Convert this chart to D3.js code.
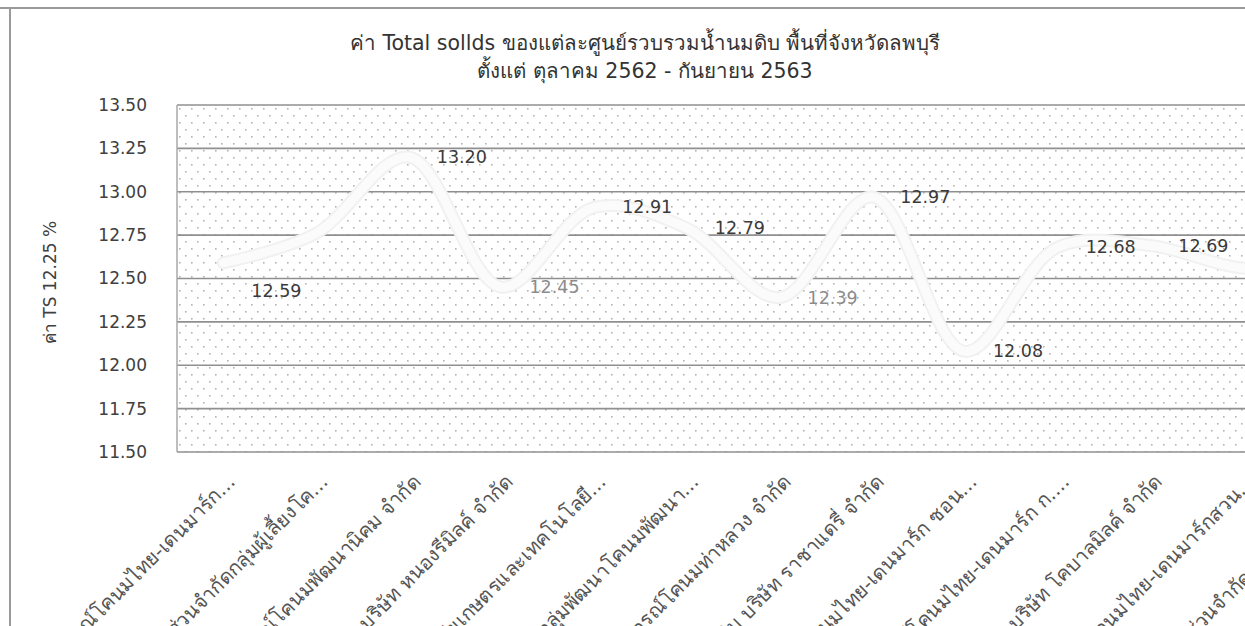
<!DOCTYPE html>
<html>
<head>
<meta charset="utf-8">
<script src="https://cdn.jsdelivr.net/npm/d3@7/dist/d3.min.js"></script>
<style>
  html, body { margin: 0; padding: 0; background: #fff; overflow: hidden; }
  svg { display: block; }
  text { font-family: "DejaVu Sans", "Noto Sans", sans-serif; }
</style>
</head>
<body>
<svg id="chart" width="1245" height="626"></svg>
<script>
// ---- data ----
const titleLines = [
  "ค่า Total sollds ของแต่ละศูนย์รวบรวมน้ำนมดิบ พื้นที่จังหวัดลพบุรี",
  "ตั้งแต่ ตุลาคม 2562 - กันยายน 2563"
];
const yAxisTitle = "ค่า TS 12.25 %";
const categories = [
  "ศูนย์รวบรวมน้ำนมดิบ สหกรณ์โคนมไทย-เดนมาร์ก...",
  "ศูนย์ฯ ห้างหุ้นส่วนจำกัดกลุ่มผู้เลี้ยงโค...",
  "ศูนย์ฯ สหกรณ์โคนมพัฒนานิคม  จำกัด",
  "ศูนย์รวบรวมน้ำนมดิบ บริษัท หนองรีมิลค์ จำกัด",
  "ศูนย์ฯ วิทยาลัยเกษตรและเทคโนโลยี...",
  "ศูนย์ฯ กลุ่มพัฒนาโคนมพัฒนา...",
  "ศูนย์ฯ สหกรณ์โคนมท่าหลวง จำกัด",
  "ศูนย์รวบรวมน้ำนมดิบ บริษัท ราชาแดรี่ จำกัด",
  "ศูนย์ฯ สหกรณ์โคนมไทย-เดนมาร์ก ซอน...",
  "ศูนย์ฯ สหกรณ์โคนมไทย-เดนมาร์ก ก....",
  "ศูนย์รวบรวมน้ำนมดิบ บริษัท โคบาลมิลค์ จำกัด",
  "ศูนย์ฯ สหกรณ์โคนมไทย-เดนมาร์กสวน...",
  "ศูนย์ฯ ห้างหุ้นส่วนจำกัดกลุ่มเกษตรกร..."
];
const tsValues = [12.59, 12.76, 13.20, 12.45, 12.91, 12.79, 12.39, 12.97, 12.08, 12.68, 12.69, 12.56, 12.60];
const yTicks = [11.50, 11.75, 12.00, 12.25, 12.50, 12.75, 13.00, 13.25, 13.50];
const hiddenLabelIdx = [1, 11, 12];
const lightLabelIdx = [3, 6];

// ---- layout ----
const svg = d3.select("#chart");
const plot = { left: 177, top: 105, bottom: 452, step: 92.7 };
plot.right = plot.left + plot.step * categories.length;

const x = d3.scaleBand().domain(categories).range([plot.left, plot.right]).padding(0);
const cx = d => x(d) + x.bandwidth() / 2;
const y = d3.scaleLinear().domain([11.5, 13.5]).range([plot.bottom, plot.top]);

// outer chart border (top and left)
svg.append("line").attr("x1", 0).attr("x2", 1245).attr("y1", 8).attr("y2", 8)
  .attr("stroke", "#9a9a9a").attr("stroke-width", 2);
svg.append("line").attr("x1", 10).attr("x2", 10).attr("y1", 8).attr("y2", 626)
  .attr("stroke", "#9a9a9a").attr("stroke-width", 2);

// title
svg.append("text").attr("x", 645).attr("y", 50).attr("text-anchor", "middle")
  .attr("font-size", 20.5).attr("fill", "#333").text(titleLines[0]);
svg.append("text").attr("x", 645).attr("y", 78).attr("text-anchor", "middle")
  .attr("font-size", 20.5).attr("fill", "#333").text(titleLines[1]);

// dotted pattern
const defs = svg.append("defs");
const pat = defs.append("pattern").attr("id", "dots").attr("patternUnits", "userSpaceOnUse")
  .attr("width", 12).attr("height", 14).attr("x", plot.left).attr("y", plot.top);
pat.append("rect").attr("width", 12).attr("height", 14).attr("fill", "#fff");
pat.append("rect").attr("x", 2).attr("y", 3).attr("width", 1.6).attr("height", 1.6).attr("fill", "#b4b4b4");
pat.append("rect").attr("x", 8).attr("y", 10).attr("width", 1.6).attr("height", 1.6).attr("fill", "#b4b4b4");

svg.append("rect").attr("x", plot.left).attr("y", plot.top)
  .attr("width", plot.right - plot.left).attr("height", plot.bottom - plot.top)
  .attr("fill", "url(#dots)");

// gridlines
svg.append("g").selectAll("line").data(yTicks).join("line")
  .attr("x1", plot.left).attr("x2", plot.right)
  .attr("y1", d => y(d)).attr("y2", d => y(d))
  .attr("stroke", "#8f8f8f").attr("stroke-width", 1.6);

// plot frame left
svg.append("line").attr("x1", plot.left).attr("x2", plot.left).attr("y1", plot.top).attr("y2", plot.bottom)
  .attr("stroke", "#a8a8a8").attr("stroke-width", 1.5);

// y axis
const yAxis = d3.axisLeft(y).tickValues(yTicks).tickFormat(d3.format(".2f")).tickSize(0).tickPadding(30);
const ya = svg.append("g").attr("transform", `translate(${plot.left},0)`).call(yAxis);
ya.select(".domain").remove();
ya.selectAll("text").attr("font-size", 17).attr("fill", "#404040")
  .style("font-family", "'DejaVu Sans', sans-serif");

// y axis title
svg.append("text").attr("transform", `translate(56,${(plot.top + plot.bottom) / 2 + 4}) rotate(-90)`)
  .attr("text-anchor", "middle").attr("font-size", 17).attr("fill", "#404040").text(yAxisTitle);

// x axis labels
const xAxis = d3.axisBottom(x).tickSize(0).tickPadding(0);
const xa = svg.append("g").attr("transform", `translate(0,${plot.bottom})`).call(xAxis);
xa.select(".domain").remove();
xa.selectAll("text")
  .attr("font-size", 20).attr("fill", "#555")
  .attr("text-anchor", "end")
  .attr("dy", "0.35em")
  .attr("transform", "translate(8,26) rotate(-45)")
  .attr("y", 0).attr("x", 0);

// line
const pts = categories.map((c, i) => ({ c, v: tsValues[i], i }));
const line = d3.line().x(d => cx(d.c)).y(d => y(d.v)).curve(d3.curveCatmullRom.alpha(0.5));
svg.append("path").datum(pts).attr("d", line)
  .attr("fill", "none").attr("stroke", "#f1f1f1").attr("stroke-width", 13)
  .attr("stroke-linecap", "round").attr("stroke-linejoin", "round");
svg.append("path").datum(pts).attr("d", line)
  .attr("fill", "none").attr("stroke", "#fbfbfb").attr("stroke-width", 9)
  .attr("stroke-linecap", "round").attr("stroke-linejoin", "round");

// data labels
const labelOffsetY = { 0: 28 };
svg.append("g").selectAll("text").data(pts.filter(p => !hiddenLabelIdx.includes(p.i))).join("text")
  .attr("x", d => cx(d.c) + 28)
  .attr("y", d => y(d.v) + (labelOffsetY[d.i] || 0))
  .attr("dy", "0.35em")
  .attr("font-size", 17.5)
  .attr("fill", d => lightLabelIdx.includes(d.i) ? "#8c8c8c" : "#3a3a3a")
  .text(d => d3.format(".2f")(d.v));
</script>
</body>
</html>
